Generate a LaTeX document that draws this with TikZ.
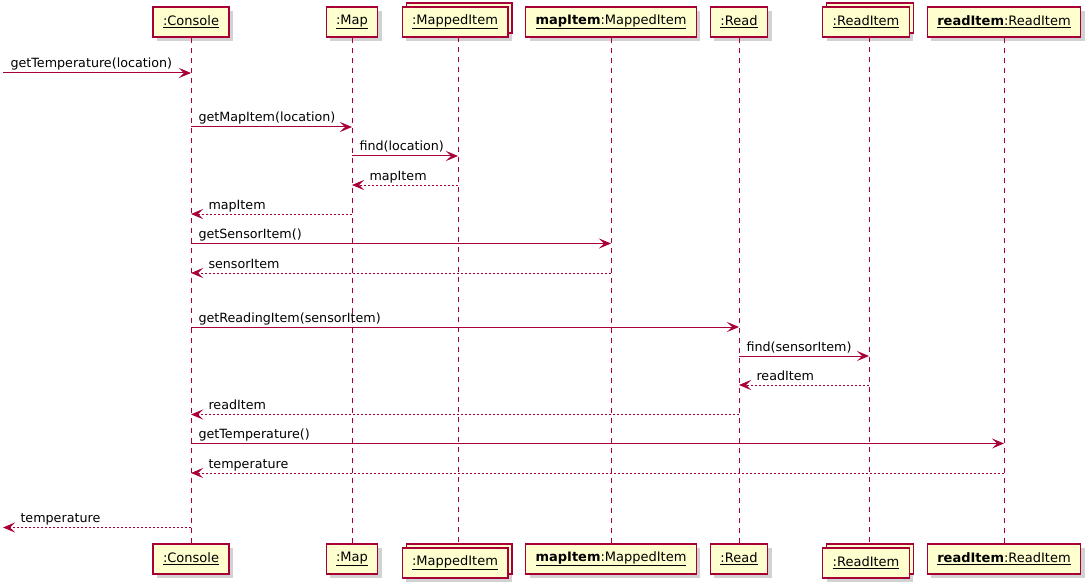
\documentclass[tikz,border=0pt]{standalone}
\usepackage{fontspec}
\setmainfont{DejaVu Sans}
\usetikzlibrary{arrows.meta,shadows}
\definecolor{umlred}{HTML}{A80036}
\definecolor{umlfill}{HTML}{FEFECE}
\tikzset{
  part/.style={draw=umlred, fill=umlfill, line width=1.1pt, minimum height=30pt,
    inner xsep=10pt, inner ysep=0pt, font=\fontsize{13}{15}\selectfont,
    drop shadow={shadow xshift=4pt, shadow yshift=-4pt, fill=black!35, draw=none, opacity=0.5}},
  coll/.style={part, copy shadow={shadow xshift=4pt, shadow yshift=4pt, draw=umlred, fill=umlfill}},
  life/.style={umlred, line width=0.9pt, dash pattern=on 5pt off 5pt},
  msg/.style={umlred, line width=1pt, -{Stealth[length=12pt, width=10pt, inset=5pt]}},
  ret/.style={msg, dash pattern=on 2pt off 2pt},
  txt/.style={font=\fontsize{12.7}{15}\selectfont, text=black, inner sep=0pt, anchor=base west, yshift=5pt},
  lblr/.style={txt, pos=0, xshift=7pt},
  lbll/.style={txt, pos=1, xshift=17pt}
}
\begin{document}
\begin{tikzpicture}[x=1pt, y=-1pt]
  \useasboundingbox (0,0) rectangle (1091,588);
  \node[part] (con) at (191,22) {\underline{:Console}};
  \node[part] (map) at (352,22) {\underline{:Map}};
  \node[coll] (mi) at (455,22) {\underline{:MappedItem}};
  \node[part] (mit) at (611,22) {\underline{\textbf{mapItem}:MappedItem}};
  \node[part] (rd) at (739,22) {\underline{:Read}};
  \node[coll] (ri) at (866,22) {\underline{:ReadItem}};
  \node[part] (rit) at (1004,22) {\underline{\textbf{readItem}:ReadItem}};
  \node[part] (conb) at (191,559) {\underline{:Console}};
  \node[part] (mapb) at (352,559) {\underline{:Map}};
  \node[coll] (mib) at (455,563) {\underline{:MappedItem}};
  \node[part] (mitb) at (611,559) {\underline{\textbf{mapItem}:MappedItem}};
  \node[part] (rdb) at (739,559) {\underline{:Read}};
  \node[coll] (rib) at (866,563) {\underline{:ReadItem}};
  \node[part] (ritb) at (1004,559) {\underline{\textbf{readItem}:ReadItem}};
  \coordinate (west) at (3,0);
  \coordinate (miT) at (458,37); \coordinate (miB) at (458,544);
  \coordinate (riT) at (869,37); \coordinate (riB) at (869,544);
  \foreach \a/\b in {con/conb, map/mapb, mit/mitb, rd/rdb, rit/ritb}
    \draw[life] (\a.south) -- (\b.north);
  \draw[life] (miT) -- (miB); \draw[life] (riT) -- (riB);
  \draw[msg] (west |- 0,73) -- node[lblr] {getTemperature(location)} (con |- 0,73);
  \draw[msg] (con |- 0,127) -- node[lblr] {getMapItem(location)} (map |- 0,127);
  \draw[msg] (map |- 0,156) -- node[lblr] {find(location)} (miT |- 0,156);
  \draw[ret] (miT |- 0,185) -- node[lbll] {mapItem} (map |- 0,185);
  \draw[ret] (map |- 0,214) -- node[lbll] {mapItem} (con |- 0,214);
  \draw[msg] (con |- 0,243.5) -- node[lblr] {getSensorItem()} (mit |- 0,243.5);
  \draw[ret] (mit |- 0,273) -- node[lbll] {sensorItem} (con |- 0,273);
  \draw[msg] (con |- 0,327) -- node[lblr] {getReadingItem(sensorItem)} (rd |- 0,327);
  \draw[msg] (rd |- 0,356) -- node[lblr] {find(sensorItem)} (riT |- 0,356);
  \draw[ret] (riT |- 0,385) -- node[lbll] {readItem} (rd |- 0,385);
  \draw[ret] (rd |- 0,414.5) -- node[lbll] {readItem} (con |- 0,414.5);
  \draw[msg] (con |- 0,443.5) -- node[lblr] {getTemperature()} (rit |- 0,443.5);
  \draw[ret] (rit |- 0,473) -- node[lbll] {temperature} (con |- 0,473);
  \draw[ret] (con |- 0,527.5) -- node[lbll] {temperature} (west |- 0,527.5);
\end{tikzpicture}
\end{document}
